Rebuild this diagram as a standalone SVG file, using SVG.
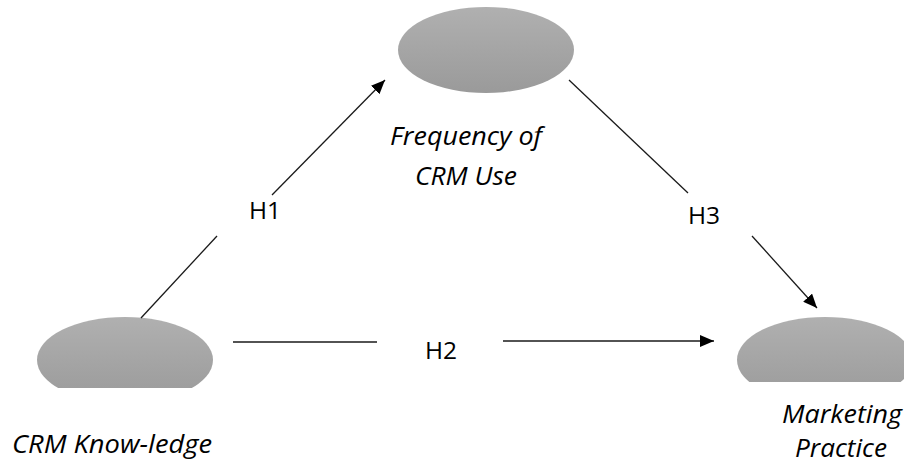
<svg xmlns="http://www.w3.org/2000/svg" width="904" height="467" viewBox="0 0 904 467">
<style>
  .node { fill: url(#g); }
  .lbl { font-family: "Open Sans", "Liberation Sans", sans-serif; font-size: 26px; font-style: italic; fill: #000; text-anchor: middle; }
  .h { font-family: "Open Sans", "Liberation Sans", sans-serif; font-size: 24.5px; fill: #000; }
  .ln { stroke: #1a1a1a; stroke-width: 1.3; fill: none; }
</style>
<defs>
  <linearGradient id="g" x1="0" y1="0" x2="0" y2="1">
    <stop offset="0" stop-color="#b0b0b0"/>
    <stop offset="1" stop-color="#9a9a9a"/>
  </linearGradient>
  <marker id="arrh" viewBox="0 0 14 12" refX="14" refY="6" markerWidth="14" markerHeight="12" markerUnits="userSpaceOnUse" orient="auto">
    <path d="M0,0 L14,6 L0,12 z" fill="#000"/>
  </marker>
  <clipPath id="cl"><rect x="0" y="0" width="904" height="388"/></clipPath>
  <clipPath id="cr"><rect x="0" y="0" width="904" height="382"/></clipPath>
</defs>
<rect width="904" height="467" fill="#fff"/>
<g id="node-frequency">
  <ellipse class="node" cx="486" cy="50" rx="88" ry="43"/>
  <text class="lbl" x="466" y="145" textLength="152" lengthAdjust="spacingAndGlyphs">Frequency of</text>
  <text class="lbl" x="466" y="185" textLength="102" lengthAdjust="spacingAndGlyphs">CRM Use</text>
</g>
<g id="node-crm-knowledge">
  <ellipse class="node" cx="125" cy="360" rx="88" ry="43" clip-path="url(#cl)"/>
  <text class="lbl" x="112" y="453" textLength="200" lengthAdjust="spacingAndGlyphs">CRM Know-ledge</text>
</g>
<g id="node-marketing">
  <ellipse class="node" cx="825" cy="360" rx="88" ry="43" clip-path="url(#cr)"/>
  <text class="lbl" x="842" y="423" textLength="120" lengthAdjust="spacingAndGlyphs">Marketing</text>
  <text class="lbl" x="841" y="457" textLength="92" lengthAdjust="spacingAndGlyphs">Practice</text>
</g>
<g id="connectors">
  <line class="ln" x1="141" y1="318" x2="217" y2="236"/>
  <line class="ln" x1="272" y1="195" x2="385" y2="80" marker-end="url(#arrh)"/>
  <text class="h" x="249" y="219">H1</text>
  <line class="ln" x1="233" y1="342" x2="377" y2="342"/>
  <line class="ln" x1="503" y1="341" x2="714" y2="341" marker-end="url(#arrh)"/>
  <text class="h" x="425" y="359">H2</text>
  <line class="ln" x1="569" y1="80" x2="688" y2="193"/>
  <line class="ln" x1="752" y1="236" x2="817" y2="308" marker-end="url(#arrh)"/>
  <text class="h" x="688" y="224">H3</text>
</g>
</svg>
